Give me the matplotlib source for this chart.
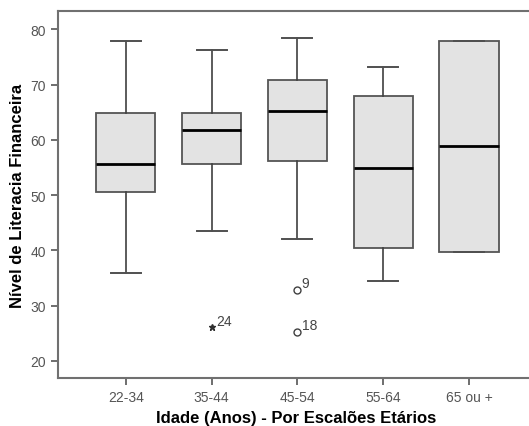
import matplotlib
matplotlib.use("Agg")
import matplotlib.pyplot as plt

categories = ["22-34", "35-44", "45-54", "55-64", "65 ou +"]
whisker_low = [35.9, 43.5, 42.0, 34.4, 39.7]
q1 = [50.5, 55.7, 56.1, 40.5, 39.7]
median = [55.7, 61.8, 65.2, 54.9, 58.8]
q3 = [64.8, 64.8, 70.9, 67.9, 77.8]
whisker_high = [77.8, 76.2, 78.5, 73.2, 77.8]

outlier_group = [2, 3, 3]
outlier_value = [26.05, 32.9, 25.3]
outlier_label = ["24", "9", "18"]
outlier_kind = ["extreme", "mild", "mild"]

plt.rcParams['font.family'] = ['Liberation Sans', 'DejaVu Sans']

fig = plt.figure(figsize=(5.29, 4.27), dpi=100)
ax = fig.add_axes([58/529, 48/427, 1 - 58/529 + 0.01, (379-12)/427])

stats = []
for i, c in enumerate(categories):
    stats.append(dict(label=c, whislo=whisker_low[i], q1=q1[i], med=median[i],
                      q3=q3[i], whishi=whisker_high[i], fliers=[]))

positions = list(range(1, len(categories) + 1))
ax.bxp(stats, positions=positions, widths=0.69, patch_artist=True, showfliers=False,
       boxprops=dict(facecolor='#e3e3e3', edgecolor='#555555', linewidth=1.3),
       medianprops=dict(color='black', linewidth=2.0),
       whiskerprops=dict(color='#404040', linewidth=1.2),
       capprops=dict(color='#505050', linewidth=1.4),
       capwidths=0.35)

for g, v, lab, kind in zip(outlier_group, outlier_value, outlier_label, outlier_kind):
    if kind == "extreme":
        ax.plot([g], [v], marker='*', markersize=5, color='#303030', linestyle='none')
    else:
        ax.plot([g], [v], marker='o', markersize=5, markerfacecolor='white',
                markeredgecolor='#404040', markeredgewidth=1.0, linestyle='none')
    ax.annotate(lab, (g, v), xytext=(3, 2), textcoords='offset points',
                fontsize=10, color='#444444')

ax.set_xlim(0.21, 5.76)
ax.set_ylim(16.9, 83.3)
ax.set_yticks([20, 30, 40, 50, 60, 70, 80])
ax.set_xticks(positions)
ax.set_xticklabels(categories)

for s in ['left', 'bottom', 'top']:
    ax.spines[s].set_color('#707070')
    ax.spines[s].set_linewidth(1.5)
ax.spines['right'].set_visible(False)
ax.tick_params(axis='both', colors='#555555', labelcolor='#555555', labelsize=10,
               length=5, width=1.2, direction='out')

ax.set_ylabel("Nível de Literacia Financeira", fontsize=12, fontweight='bold', labelpad=4)
ax.set_xlabel("Idade (Anos) - Por Escalões Etários", fontsize=12, fontweight='bold', labelpad=4.5)

fig.savefig("out.png", dpi=100)
